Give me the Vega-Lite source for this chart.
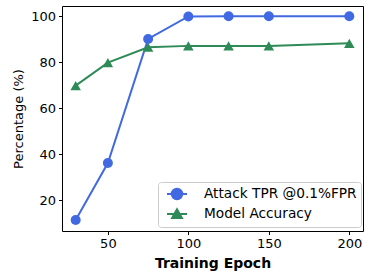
{
  "$schema": "https://vega.github.io/schema/vega-lite/v6.json",
  "width": 301,
  "height": 225,
  "autosize": {"type": "none"},
  "padding": {"left": 62, "top": 6, "right": 2, "bottom": 45},
  "config": {
    "font": "DejaVu Sans",
    "view": {"stroke": "black", "strokeWidth": 1},
    "axis": {
      "grid": false,
      "domain": false,
      "tickColor": "black",
      "tickSize": 3.5,
      "labelPadding": 3,
      "labelFontSize": 13,
      "labelColor": "black",
      "titleColor": "black",
      "labelFont": "DejaVu Sans",
      "titleFont": "DejaVu Sans"
    }
  },
  "data": {
    "values": [
      {"epoch": 30, "series": "Attack TPR @0.1%FPR", "value": 11.3},
      {"epoch": 50, "series": "Attack TPR @0.1%FPR", "value": 36.1},
      {"epoch": 75, "series": "Attack TPR @0.1%FPR", "value": 90.1},
      {"epoch": 100, "series": "Attack TPR @0.1%FPR", "value": 99.9},
      {"epoch": 125, "series": "Attack TPR @0.1%FPR", "value": 100},
      {"epoch": 150, "series": "Attack TPR @0.1%FPR", "value": 100},
      {"epoch": 200, "series": "Attack TPR @0.1%FPR", "value": 100},
      {"epoch": 30, "series": "Model Accuracy", "value": 69.8},
      {"epoch": 50, "series": "Model Accuracy", "value": 79.8},
      {"epoch": 75, "series": "Model Accuracy", "value": 86.5},
      {"epoch": 100, "series": "Model Accuracy", "value": 87.1},
      {"epoch": 125, "series": "Model Accuracy", "value": 87.1},
      {"epoch": 150, "series": "Model Accuracy", "value": 87.1},
      {"epoch": 200, "series": "Model Accuracy", "value": 88.2}
    ]
  },
  "encoding": {
    "x": {
      "field": "epoch",
      "type": "quantitative",
      "scale": {"domain": [21.5, 208.5], "nice": false, "zero": false},
      "axis": {"values": [50, 100, 150, 200], "title": "Training Epoch", "titleFontSize": 14, "titleFontWeight": "bold", "titlePadding": 6}
    },
    "y": {
      "field": "value",
      "type": "quantitative",
      "scale": {"domain": [6.55, 104.45], "nice": false, "zero": false},
      "axis": {"values": [20, 40, 60, 80, 100], "title": "Percentage (%)", "titleFontSize": 13, "titleFontWeight": "normal", "titlePadding": 5}
    },
    "color": {
      "field": "series",
      "type": "nominal",
      "scale": {"domain": ["Attack TPR @0.1%FPR", "Model Accuracy"], "range": ["#4169E1", "#2E8B57"]},
      "legend": {
        "title": null,
        "orient": "none",
        "legendX": 96,
        "legendY": 176,
        "padding": 4,
        "fillColor": "white",
        "strokeColor": "#cccccc",
        "cornerRadius": 3,
        "labelFontSize": 13.7,
        "labelColor": "black",
        "symbolSize": 196,
        "symbolStrokeWidth": 2,
        "symbolOpacity": 1,
        "labelOffset": 26,
        "rowPadding": 1,
        "encode": {
          "symbols": {
            "update": {
              "shape": {"signal": "datum.value === 'Model Accuracy' ? 'M-0.43,0H2.43M0.3,0.58L1,-0.68L1.7,0.58Z' : 'M-0.43,0H2.43M0.25,0A0.75,0.75,0,1,0,1.75,0A0.75,0.75,0,1,0,0.25,0Z'"},
              "fillOpacity": {"value": 1}
            }
          }
        }
      }
    }
  },
  "layer": [
    {
      "transform": [{"filter": "datum.series === 'Attack TPR @0.1%FPR'"}],
      "layer": [
        {"mark": {"type": "line", "strokeWidth": 2}},
        {"mark": {"type": "point", "shape": "circle", "filled": true, "size": 100, "opacity": 1}}
      ]
    },
    {
      "transform": [{"filter": "datum.series === 'Model Accuracy'"}],
      "layer": [
        {"mark": {"type": "line", "strokeWidth": 2}},
        {"mark": {"type": "point", "shape": "triangle-up", "filled": true, "size": 110, "opacity": 1}}
      ]
    }
  ]
}
